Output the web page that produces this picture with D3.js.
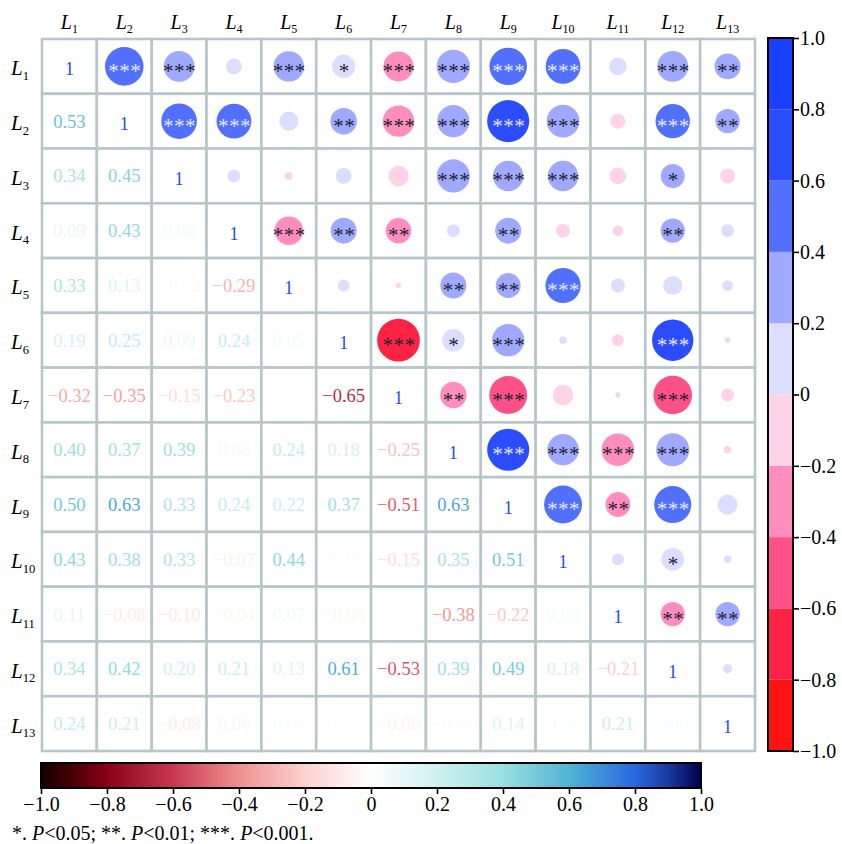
<!DOCTYPE html>
<html>
<head>
<meta charset="utf-8">
<script src="https://cdn.jsdelivr.net/npm/d3@7"></script>
<style>
  body { margin: 0; background: #fff; }
  svg text { font-family: "Liberation Serif", "DejaVu Serif", serif; }
</style>
</head>
<body>
<div id="chart"></div>
<script>
// variable names
var labels = ["1","2","3","4","5","6","7","8","9","10","11","12","13"];

// lower triangle of the correlation matrix (row i, columns 0..i)
var corr = [
  [1],
  [0.53, 1],
  [0.34, 0.45, 1],
  [0.09, 0.43, 0.06, 1],
  [0.33, 0.13, -0.02, -0.29, 1],
  [0.19, 0.25, 0.09, 0.24, 0.05, 1],
  [-0.32, -0.35, -0.15, -0.23, -0.01, -0.65, 1],
  [0.396, 0.37, 0.39, 0.06, 0.24, 0.18, -0.25, 1],
  [0.50, 0.63, 0.33, 0.24, 0.22, 0.37, -0.51, 0.63, 1],
  [0.43, 0.38, 0.33, -0.07, 0.44, 0.02, -0.15, 0.35, 0.51, 1],
  [0.11, -0.08, -0.10, -0.04, 0.07, -0.05, 0.01, -0.38, -0.22, 0.05, 1],
  [0.34, 0.42, 0.204, 0.21, 0.13, 0.61, -0.53, 0.39, 0.49, 0.18, -0.21, 1],
  [0.24, 0.21, -0.08, 0.06, 0.04, 0.01, -0.06, -0.02, 0.14, 0.02, 0.21, 0.03, 1]
];

// significance stars, same layout as corr (without diagonal)
var sig = [
  [],
  ["***"],
  ["***", "***"],
  ["", "***", ""],
  ["***", "", "", "***"],
  ["*", "**", "", "**", ""],
  ["***", "***", "", "**", "", "***"],
  ["***", "***", "***", "", "**", "*", "**"],
  ["***", "***", "***", "**", "**", "***", "***", "***"],
  ["***", "***", "***", "", "***", "", "", "***", "***"],
  ["", "", "", "", "", "", "", "***", "**", ""],
  ["***", "***", "*", "**", "", "***", "***", "***", "***", "*", "**"],
  ["**", "**", "", "", "", "", "", "", "", "", "**", ""]
];

// discrete colour bins for the circles (right colour bar)
var binEdges = [-0.8, -0.6, -0.4, -0.2, 0, 0.2, 0.4, 0.6, 0.8];
var binColors = ["#ff1212", "#ff2244", "#ff5088", "#ff8dbd", "#ffd3e7",
                 "#dcdeff", "#9ea9ff", "#5170ff", "#2b4dff", "#1a40ff"];
var barTicks = [-1, -0.8, -0.6, -0.4, -0.2, 0, 0.2, 0.4, 0.6, 0.8, 1];

// continuous scale for the numbers (bottom colour bar)
var gradStops = [-1, -0.9, -0.8, -0.6, -0.4, -0.2, 0, 0.2, 0.4, 0.6, 0.8, 0.9, 1];
var gradColors = ["#120000", "#4a0004", "#8b0015", "#c83850", "#f09090", "#fcd2ce", "#ffffff",
                  "#d0f0f0", "#98e0e0", "#50b4d4", "#2868e0", "#1a3aa0", "#000050"];

var W = 842, H = 844;
var gx0 = 42, gx1 = 755, gy0 = 39, gy1 = 751;

var svg = d3.select("#chart").append("svg")
    .attr("width", W).attr("height", H);

var x = d3.scaleBand().domain(labels).range([gx0, gx1]);
var y = d3.scaleBand().domain(labels).range([gy0, gy1]);
var r = d3.scaleSqrt().domain([0, 1]).range([0, 26.5]);
var binColor = d3.scaleThreshold().domain(binEdges).range(binColors);
var textColor = d3.scaleLinear().domain(gradStops).range(gradColors).clamp(true);

function fmt(v) {
  var s = Math.abs(v).toFixed(2);
  return (v < 0 ? "\u2212" : "") + s;
}
function tickFmt(v) {
  if (Math.abs(v) < 1e-9) return "0";
  return (v < 0 ? "\u2212" : "") + Math.abs(v).toFixed(1);
}

// build cells
var cells = [];
labels.forEach(function(a, i) {
  labels.forEach(function(b, j) {
    var lo = Math.max(i, j), hi = Math.min(i, j);
    cells.push({row: a, col: b, i: i, j: j, v: corr[lo][hi], s: i === j ? "" : sig[lo][hi]});
  });
});

// grid
svg.append("g").selectAll("rect")
  .data(cells).enter().append("rect")
    .attr("x", function(d) { return x(d.col); })
    .attr("y", function(d) { return y(d.row); })
    .attr("width", x.bandwidth())
    .attr("height", y.bandwidth())
    .attr("fill", "#fff")
    .attr("stroke", "#b7c6c8")
    .attr("stroke-width", 2.6);

// lower triangle numbers
svg.append("g").selectAll("text")
  .data(cells.filter(function(d) { return d.i > d.j; })).enter().append("text")
    .attr("x", function(d) { return x(d.col) + x.bandwidth() / 2; })
    .attr("y", function(d) { return y(d.row) + y.bandwidth() / 2 + 6.5; })
    .attr("text-anchor", "middle")
    .style("font-size", "18.5px")
    .attr("fill", function(d) { return textColor(d.v); })
    .text(function(d) { return fmt(d.v); });

// diagonal
svg.append("g").selectAll("text")
  .data(cells.filter(function(d) { return d.i === d.j; })).enter().append("text")
    .attr("x", function(d) { return x(d.col) + x.bandwidth() / 2; })
    .attr("y", function(d) { return y(d.row) + y.bandwidth() / 2 + 9; })
    .attr("text-anchor", "middle")
    .style("font-size", "18px")
    .attr("fill", "#2448ff")
    .text("1");

// upper triangle circles
var upper = cells.filter(function(d) { return d.i < d.j; });
svg.append("g").selectAll("circle")
  .data(upper).enter().append("circle")
    .attr("cx", function(d) { return x(d.col) + x.bandwidth() / 2; })
    .attr("cy", function(d) { return y(d.row) + y.bandwidth() / 2; })
    .attr("r", function(d) { return r(Math.abs(d.v)); })
    .attr("fill", function(d) { return binColor(d.v); });

svg.append("g").selectAll("text")
  .data(upper.filter(function(d) { return d.s; })).enter().append("text")
    .attr("x", function(d) { return x(d.col) + x.bandwidth() / 2 + 0.5; })
    .attr("y", function(d) { return y(d.row) + y.bandwidth() / 2 + 11.5; })
    .attr("text-anchor", "middle")
    .style("font-size", "21px")
    .style("letter-spacing", "0.5px")
    .attr("fill", function(d) { return d.v >= 0.4 ? "#e6e8ff" : "#22222e"; })
    .text(function(d) { return d.s; });

// axis labels (L with subscript)
function addLabel(g, sub, size) {
  var t = g.append("text").style("font-size", size + "px");
  t.append("tspan").style("font-style", "italic").text("L");
  t.append("tspan").attr("dy", size * 0.22).style("font-size", (size * 0.6) + "px").text(sub);
  return t;
}
labels.forEach(function(l) {
  var g = svg.append("g")
    .attr("transform", "translate(" + (x(l) + x.bandwidth() / 2) + ",29)");
  addLabel(g, l, 20).attr("text-anchor", "middle");
  var g2 = svg.append("g")
    .attr("transform", "translate(11," + (y(l) + y.bandwidth() / 2 + 9) + ")");
  addLabel(g2, l, 21);
});

// right colour bar (discrete)
var cbX = 768, cbW = 25;
var cy = d3.scaleLinear().domain([-1, 1]).range([gy1, 38]);
var bins = d3.pairs(barTicks);
svg.append("g").selectAll("rect")
  .data(bins).enter().append("rect")
    .attr("x", cbX)
    .attr("y", function(d) { return cy(d[1]); })
    .attr("width", cbW)
    .attr("height", function(d) { return cy(d[0]) - cy(d[1]); })
    .attr("fill", function(d) { return binColor((d[0] + d[1]) / 2); });
svg.append("rect")
  .attr("x", cbX).attr("y", cy(1)).attr("width", cbW).attr("height", cy(-1) - cy(1))
  .attr("fill", "none").attr("stroke", "#000").attr("stroke-width", 2);
var ax = svg.append("g")
  .attr("transform", "translate(" + (cbX + cbW) + ",0)")
  .call(d3.axisRight(cy).tickValues(barTicks).tickSize(6).tickFormat(tickFmt));
ax.select(".domain").remove();
ax.selectAll("line").attr("stroke", "#000").attr("stroke-width", 1.6);
ax.selectAll("text").attr("x", 7).style("font-size", "20px")
  .style("font-family", "Liberation Serif").attr("fill", "#000");

// bottom colour bar (continuous)
var bx = d3.scaleLinear().domain([-1, 1]).range([41, 701]);
var grad = svg.append("defs").append("linearGradient").attr("id", "grad");
gradStops.forEach(function(s, k) {
  grad.append("stop")
    .attr("offset", ((s + 1) / 2 * 100) + "%")
    .attr("stop-color", gradColors[k]);
});
svg.append("rect")
  .attr("x", bx(-1)).attr("y", 763).attr("width", bx(1) - bx(-1)).attr("height", 25)
  .attr("fill", "url(#grad)").attr("stroke", "#000").attr("stroke-width", 2);
var bax = svg.append("g")
  .attr("transform", "translate(0,788)")
  .call(d3.axisBottom(bx).tickValues(barTicks).tickSize(6).tickFormat(tickFmt));
bax.select(".domain").remove();
bax.selectAll("line").attr("stroke", "#000").attr("stroke-width", 1.6);
bax.selectAll("text").attr("y", 9).style("font-size", "20px")
  .style("font-family", "Liberation Serif").attr("fill", "#000");

// footnote
var note = svg.append("text").attr("x", 12).attr("y", 840).style("font-size", "20px");
[["*. ", false], ["P", true], ["<0.05; **. ", false], ["P", true],
 ["<0.01; ***. ", false], ["P", true], ["<0.001.", false]].forEach(function(p) {
  note.append("tspan").style("font-style", p[1] ? "italic" : "normal").text(p[0]);
});
</script>
</body>
</html>
